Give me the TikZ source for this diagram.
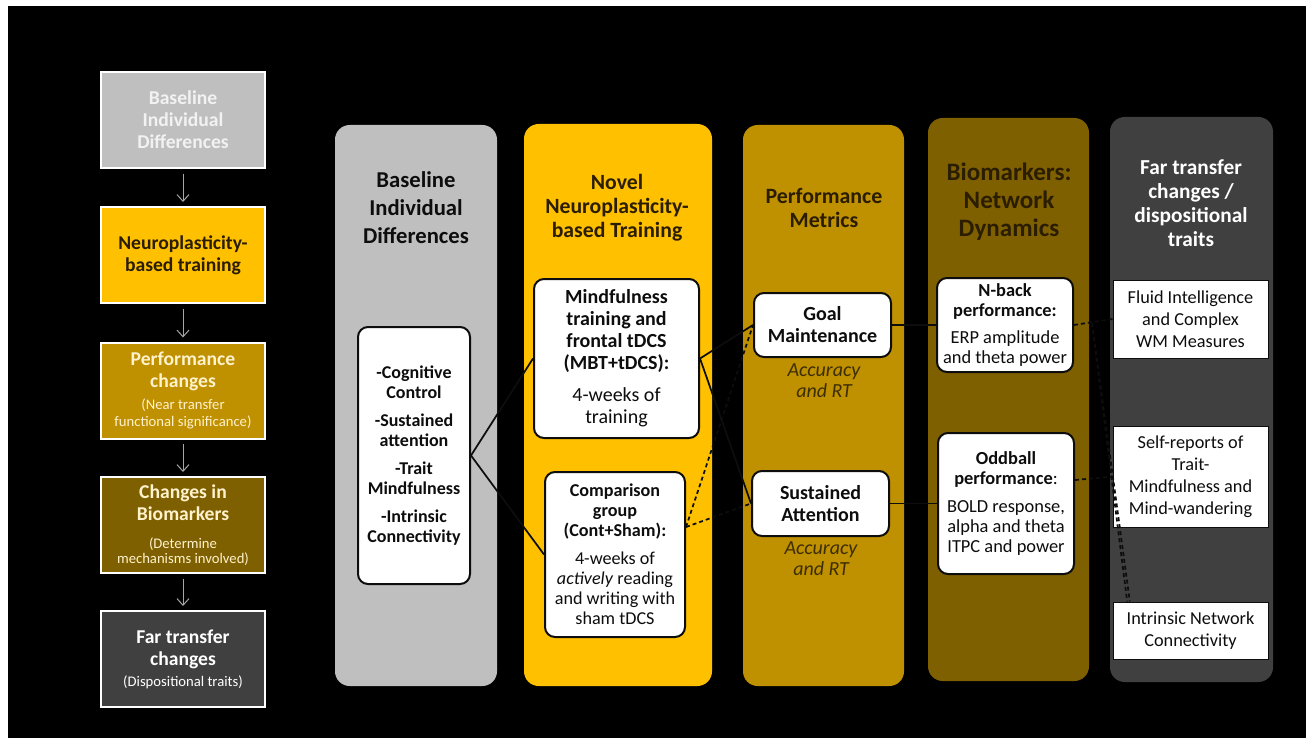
\documentclass[tikz,border=0pt]{standalone}
\usepackage{fontspec}
\setmainfont{Carlito}
\usetikzlibrary{arrows.meta}
\definecolor{pgray}{HTML}{BFBFBF}
\definecolor{pyel}{HTML}{FFC000}
\definecolor{pgold}{HTML}{BF9000}
\definecolor{pbrown}{HTML}{7F6000}
\definecolor{pdark}{HTML}{404040}
\definecolor{cream}{HTML}{FFF2CC}
\definecolor{ink}{HTML}{0D0D0D}
\definecolor{brownink}{HTML}{2B1D00}
\definecolor{accink}{HTML}{3D2E00}
\definecolor{flowgray}{HTML}{A6A6A6}
\newcommand\fz[2]{\fontsize{#1}{#2}\selectfont}
\begin{document}
\begin{tikzpicture}[x=0.75pt,y=-0.75pt,
  leftbox/.style={draw=white, line width=1.5pt, minimum width=123pt, minimum height=72pt, inner sep=0pt, align=center, font=\bfseries\fz{14.7}{16.5}},
  panel/.style={rounded corners=11pt, inner sep=0pt},
  ibox/.style={draw=ink, fill=white, line width=1.5pt, rounded corners=7.5pt, inner sep=0pt, align=center, text=ink},
  fbox/.style={draw=ink, fill=white, line width=0.75pt, inner sep=0pt, align=center, text=ink, minimum width=116.25pt, font=\fz{13.7}{16.5}},
  ptitle/.style={align=center, inner sep=0pt},
  flow/.style={draw=flowgray, line width=0.75pt, -{Straight Barb[length=5pt,width=9pt]}, shorten >=3pt, shorten <=3.5pt},
  link/.style={draw=ink, line width=1.3pt},
  dlink/.style={link, dash pattern=on 3pt off 2.25pt},
  acc/.style={align=center, inner sep=0pt, text=accink, font=\itshape\fz{15}{15.75}},
]
\useasboundingbox (0,0) rectangle (1306,738);
\fill[white] (0,0) rectangle (1306,738);
\fill[black] (8,6) rectangle (1306,738);

% left flow column
\node[leftbox, fill=pgray, text=white!95!black] (L1) at (183,120) {Baseline\\Individual\\Differences};
\node[leftbox, fill=pyel, text=brownink] (L2) at (183,255) {Neuroplasticity-\\based training};
\node[leftbox, fill=pgold, text=cream] (L3) at (183,390.5) {Performance\\changes\\{\mdseries\fz{11}{12.75}(Near transfer}\\[-3.75pt]{\mdseries\fz{11}{12.75}functional significance)}};
\node[leftbox, fill=pbrown, text=cream] (L4) at (183,525) {Changes in\\Biomarkers\\[4.5pt]{\mdseries\fz{11}{12}(Determine}\\[-5.25pt]{\mdseries\fz{11}{12}mechanisms involved)}};
\node[leftbox, fill=pdark, text=white] (L5) at (183,659) {Far transfer\\changes\\[-0.75pt]{\mdseries\fz{11}{12}(Dispositional traits)}};
\draw[flow] (L1.south) -- (L2.north);
\draw[flow] (L2.south) -- (L3.north);
\draw[flow] (L3.south) -- (L4.north);
\draw[flow] (L4.south) -- (L5.north);

% panels
\node[panel, fill=pgray, minimum width=121.5pt, minimum height=420.75pt] (P1) at (416,405.5) {};
\node[panel, fill=pyel, minimum width=141pt, minimum height=421.5pt] (P2) at (618,405) {};
\node[panel, fill=pgold, minimum width=120.75pt, minimum height=420.75pt] (P3) at (823.5,405.5) {};
\node[panel, fill=pbrown, minimum width=120.75pt, minimum height=422.25pt] (P4) at (1008.5,399.5) {};
\node[panel, fill=pdark, minimum width=122.25pt, minimum height=423.75pt] (P5) at (1191.5,399.5) {};

% panel titles
\node[ptitle, text=ink, font=\bfseries\fz{17}{21}] (T1) at (416,208) {Baseline\\Individual\\Differences};
\node[ptitle, text=brownink, font=\bfseries\fz{16.3}{18}] (T2) at (617,208) {Novel\\Neuroplasticity-\\based Training};
\node[ptitle, text=brownink, font=\bfseries\fz{16.4}{18}] (T3) at (824,208) {Performance\\Metrics};
\node[ptitle, text=brownink, font=\bfseries\fz{18.8}{21}] (T4) at (1009,202) {Biomarkers:\\Network\\Dynamics};
\node[ptitle, text=white, font=\bfseries\fz{16}{18}] (T5) at (1191,203) {Far transfer\\changes /\\dispositional\\traits};

% inner boxes
\node[ibox, minimum width=84pt, minimum height=192.75pt, font=\bfseries\fz{13.5}{15}] (B0) at (414,455.5)
  {-Cognitive\\Control\\[6pt]-Sustained\\attention\\[6pt]-Trait\\Mindfulness\\[6pt]-Intrinsic\\Connectivity};
\node[ibox, minimum width=123.75pt, minimum height=119.25pt, font=\bfseries\fz{15}{16.5}] (MBT) at (616.5,358.5)
  {Mindfulness\\training and\\frontal tDCS\\(MBT+tDCS):\\[7.5pt]{\mdseries 4-weeks of}\\{\mdseries training}};
\node[ibox, minimum width=105pt, minimum height=123.75pt, font=\bfseries\fz{13.6}{15}] (CMP) at (615,554.5)
  {Comparison\\group\\(Cont+Sham):\\[6pt]{\mdseries 4-weeks of}\\{\mdseries\itshape actively\/\upshape\ reading}\\{\mdseries and writing with}\\{\mdseries sham tDCS}};
\node[ibox, minimum width=102.75pt, minimum height=48pt, font=\bfseries\fz{15}{16.5}] (GM) at (822.5,325) {Goal\\Maintenance};
\node[ibox, minimum width=102.75pt, minimum height=48.75pt, font=\bfseries\fz{15}{16.5}] (SA) at (820.5,503.5) {Sustained\\Attention};
\node[acc] (A1) at (824,380.5) {Accuracy\\and RT};
\node[acc] (A2) at (821,558.5) {Accuracy\\and RT};
\node[ibox, minimum width=102pt, minimum height=70.5pt, font=\bfseries\fz{13.8}{15}] (NB) at (1005,325)
  {N-back\\performance:\\[5pt]{\mdseries ERP amplitude}\\{\mdseries and theta power}};
\node[ibox, minimum width=102pt, minimum height=105.75pt, font=\bfseries\fz{13.8}{15}] (OB) at (1006,503.5)
  {Oddball\\performance{\mdseries :}\\[6.5pt]{\mdseries BOLD response,}\\{\mdseries alpha and theta}\\{\mdseries ITPC and power}};
\node[fbox, minimum height=58.5pt] (FL) at (1190.5,319) {Fluid Intelligence\\and Complex\\WM Measures};
\node[fbox, minimum height=75.75pt] (SR) at (1190.5,476.5) {Self-reports of\\Trait-\\Mindfulness and\\Mind-wandering};
\node[fbox, minimum height=42.75pt, font=\fz{13.7}{16}] (IN) at (1190.5,630.5) {Intrinsic Network\\Connectivity};

% connectors
\draw[link] (B0.east) -- (MBT.west);
\draw[link] (B0.east) -- (CMP.west);
\draw[link] (MBT.east) -- (GM.west);
\draw[link] (MBT.east) -- (SA.west);
\draw[dlink] ([yshift=20.6pt]CMP.east) -- (GM.west);
\draw[dlink] ([yshift=20.6pt]CMP.east) -- (SA.west);
\draw[link] (GM.east) -- (NB.west);
\draw[link] (SA.east) -- (OB.west);
\draw[dlink] (NB.east) -- (FL.west);
\draw[dlink] ([yshift=17.6pt]OB.east) -- (SR.west);
\coordinate (nbfl) at (1092,323);
\draw[dlink] (nbfl) -- ([xshift=11pt]IN.north west);
\draw[dlink] (nbfl) -- ([xshift=13pt]IN.north west);
\end{tikzpicture}
\end{document}
